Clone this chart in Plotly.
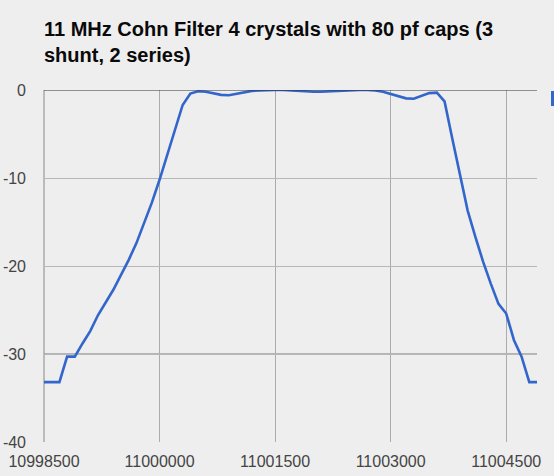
import plotly.graph_objects as go

# Frequency (Hz) and response (dB)
freq_hz = [
    10998500, 10998600, 10998700, 10998800, 10998900, 10999000, 10999100, 10999200,
    10999300, 10999400, 10999500, 10999600, 10999700, 10999800, 10999900, 11000000,
    11000100, 11000200, 11000300, 11000400, 11000500, 11000600, 11000700, 11000800,
    11000900, 11001000, 11001100, 11001200, 11001300, 11001400, 11001500, 11001600,
    11001700, 11001800, 11001900, 11002000, 11002100, 11002200, 11002300, 11002400,
    11002500, 11002600, 11002700, 11002800, 11002900, 11003000, 11003100, 11003200,
    11003300, 11003400, 11003500, 11003600, 11003700, 11003800, 11003900, 11004000,
    11004100, 11004200, 11004300, 11004400, 11004500, 11004600, 11004700, 11004800,
    11004900,
]
response_db = [
    -33.2, -33.2, -33.2, -30.3, -30.3, -28.8, -27.4, -25.6,
    -24.2, -22.7, -21.0, -19.3, -17.4, -15.2, -12.8, -10.2,
    -7.4, -4.5, -1.7, -0.4, -0.15, -0.2, -0.4, -0.55,
    -0.6, -0.45, -0.25, -0.1, -0.05, 0.0, 0.0, 0.0,
    -0.05, -0.15, -0.2, -0.2, -0.2, -0.15, -0.1, -0.1,
    -0.05, 0.0, 0.0, -0.05, -0.2, -0.45, -0.75, -0.95,
    -1.0, -0.7, -0.35, -0.3, -1.3, -5.5, -9.6, -13.7,
    -16.7, -19.5, -22.0, -24.3, -25.4, -28.4, -30.3, -33.2,
    -33.2,
]

x_ticks = [10998500, 11000000, 11001500, 11003000, 11004500]
y_ticks = [0, -10, -20, -30, -40]

title_text = "11 MHz Cohn Filter 4 crystals with 80 pf caps (3<br>shunt, 2 series)"

FONT = "Liberation Sans, Arial, sans-serif"
BG = "#eeeeee"

fig = go.Figure()
fig.add_trace(go.Scatter(
    x=freq_hz, y=response_db, mode="lines",
    line=dict(color="#3366cc", width=2.6),
    showlegend=False, hoverinfo="x+y",
))

fig.update_layout(
    width=554, height=476,
    margin=dict(l=44, r=17, t=90, b=34, pad=0, autoexpand=False),
    paper_bgcolor=BG, plot_bgcolor=BG,
    font=dict(family=FONT, size=16, color="#444444"),
    title=dict(
        text="<b>" + title_text + "</b>",
        x=44 / 554, xanchor="left", xref="container",
        y=1 - 36 / 476, yanchor="top", yref="container",
        font=dict(family=FONT, size=20, color="#0a0a0a"),
    ),
    xaxis=dict(
        range=[10998500, 11004900],
        tickvals=x_ticks,
        ticktext=[str(v) for v in x_ticks],
        showgrid=True, gridcolor="#ababab", gridwidth=1,
        zeroline=False, showline=False, automargin=False,
        ticks="", ticklabelstandoff=8,
        tickfont=dict(size=16, color="#444444"),
    ),
    yaxis=dict(
        range=[-40, 0],
        tickvals=y_ticks,
        ticktext=[str(v) for v in y_ticks],
        showgrid=True, gridcolor="#b8b8b8", gridwidth=1,
        zeroline=False, showline=False, automargin=False,
        ticks="", ticklabelstandoff=17,
        tickfont=dict(size=16, color="#444444"),
    ),
)

# Slightly heavier -30 dB gridline, as in the reference
fig.add_shape(type="line", xref="paper", yref="y", x0=0, x1=1, y0=-30, y1=-30,
              line=dict(color="#a0a0a0", width=1.6), layer="below")
# Zero baseline (dark) across the top of the plot
fig.add_shape(type="line", xref="paper", yref="y", x0=0, x1=1, y0=0, y1=0,
              line=dict(color="#333333", width=1.2), layer="above")
# Left axis line
fig.add_shape(type="line", xref="paper", yref="paper", x0=0, x1=0, y0=0, y1=1,
              line=dict(color="#888888", width=1), layer="below")
# Cut-off legend swatch at the right edge
fig.add_shape(type="rect", xref="paper", yref="paper",
              x0=(551 - 44) / 493, x1=(556 - 44) / 493,
              y0=(442 - 106) / 352, y1=(442 - 91) / 352,
              line=dict(width=0), fillcolor="#3366cc")

# Remove the page's default body margin so the figure fills the window
fig.write_html(
    "out.html",
    config={"displayModeBar": False},
    post_script="document.body.style.margin='0';document.body.style.background='#eeeeee';",
)
